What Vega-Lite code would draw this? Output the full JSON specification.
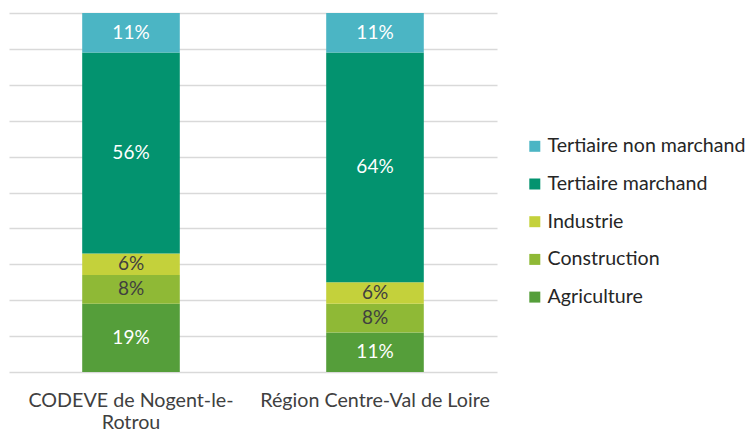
{
  "$schema": "https://vega.github.io/schema/vega-lite/v6.json",
  "width": 488,
  "height": 359,
  "autosize": {"type": "none"},
  "padding": {"left": 9, "top": 13, "right": 253, "bottom": 60},
  "background": "white",
  "config": {
    "view": {"stroke": null},
    "font": "Lato",
    "text": {"font": "Lato"},
    "axisY": {
      "labels": false,
      "ticks": false,
      "domain": false,
      "grid": true,
      "gridColor": "#d9d9d9",
      "gridWidth": 1.5,
      "tickCount": 20
    }
  },
  "data": {
    "values": [
      {"zone": "CODEVE de Nogent-le-Rotrou", "cat": "Agriculture", "ord": 1, "v": 19},
      {"zone": "CODEVE de Nogent-le-Rotrou", "cat": "Construction", "ord": 2, "v": 8},
      {"zone": "CODEVE de Nogent-le-Rotrou", "cat": "Industrie", "ord": 3, "v": 6},
      {"zone": "CODEVE de Nogent-le-Rotrou", "cat": "Tertiaire marchand", "ord": 4, "v": 56},
      {"zone": "CODEVE de Nogent-le-Rotrou", "cat": "Tertiaire non marchand", "ord": 5, "v": 11},
      {"zone": "Région Centre-Val de Loire", "cat": "Agriculture", "ord": 1, "v": 11},
      {"zone": "Région Centre-Val de Loire", "cat": "Construction", "ord": 2, "v": 8},
      {"zone": "Région Centre-Val de Loire", "cat": "Industrie", "ord": 3, "v": 6},
      {"zone": "Région Centre-Val de Loire", "cat": "Tertiaire marchand", "ord": 4, "v": 64},
      {"zone": "Région Centre-Val de Loire", "cat": "Tertiaire non marchand", "ord": 5, "v": 11}
    ]
  },
  "transform": [
    {"stack": "v", "groupby": ["zone"], "sort": [{"field": "ord", "order": "ascending"}], "as": ["y0", "y1"]},
    {"calculate": "(datum.y0 + datum.y1) / 2", "as": "mid"},
    {"calculate": "datum.v + '%'", "as": "lab"}
  ],
  "encoding": {
    "x": {
      "field": "zone",
      "type": "nominal",
      "title": null,
      "sort": null,
      "scale": {"paddingInner": 0.6, "paddingOuter": 0.3},
      "axis": {
        "domain": false,
        "ticks": false,
        "labelAngle": 0,
        "labelFont": "Lato",
        "labelFontSize": 19.7,
        "labelColor": "#404040",
        "labelPadding": 18,
        "labelLineHeight": 22,
        "labelLimit": 300,
        "labelExpr": "datum.label == 'CODEVE de Nogent-le-Rotrou' ? ['CODEVE de Nogent-le-', 'Rotrou'] : datum.label"
      }
    }
  },
  "layer": [
    {
      "mark": {"type": "bar"},
      "encoding": {
        "y": {
          "field": "y0",
          "type": "quantitative",
          "scale": {"domain": [0, 100], "nice": false},
          "title": null,
          "axis": {"values": [0, 10, 20, 30, 40, 50, 60, 70, 80, 90, 100], "grid": true, "tickCount": 20}
        },
        "y2": {"field": "y1"},
        "color": {
          "field": "cat",
          "type": "nominal",
          "scale": {
            "domain": ["Tertiaire non marchand", "Tertiaire marchand", "Industrie", "Construction", "Agriculture"],
            "range": ["#4bb5c4", "#03936f", "#c4d13b", "#8fb936", "#559e3a"]
          },
          "legend": {
            "title": null,
            "orient": "none",
            "legendX": 516,
            "legendY": 123.5,
            "symbolType": "square",
            "symbolSize": 121,
            "symbolStrokeWidth": 0,
            "labelFont": "Lato",
            "labelFontSize": 19.6,
            "labelColor": "#262626",
            "labelLimit": 300,
            "rowPadding": 16.7,
            "labelOffset": 3
          }
        }
      }
    },
    {
      "mark": {"type": "text", "font": "Lato", "fontSize": 19, "baseline": "middle", "align": "center"},
      "encoding": {
        "y": {
          "field": "mid",
          "type": "quantitative",
          "title": null,
          "axis": {"values": [0, 10, 20, 30, 40, 50, 60, 70, 80, 90, 100], "grid": true, "tickCount": 20}
        },
        "text": {"field": "lab", "type": "nominal"},
        "color": {
          "condition": {"test": "datum.cat == 'Industrie' || datum.cat == 'Construction'", "value": "#404040"},
          "value": "#ffffff"
        }
      }
    }
  ]
}
